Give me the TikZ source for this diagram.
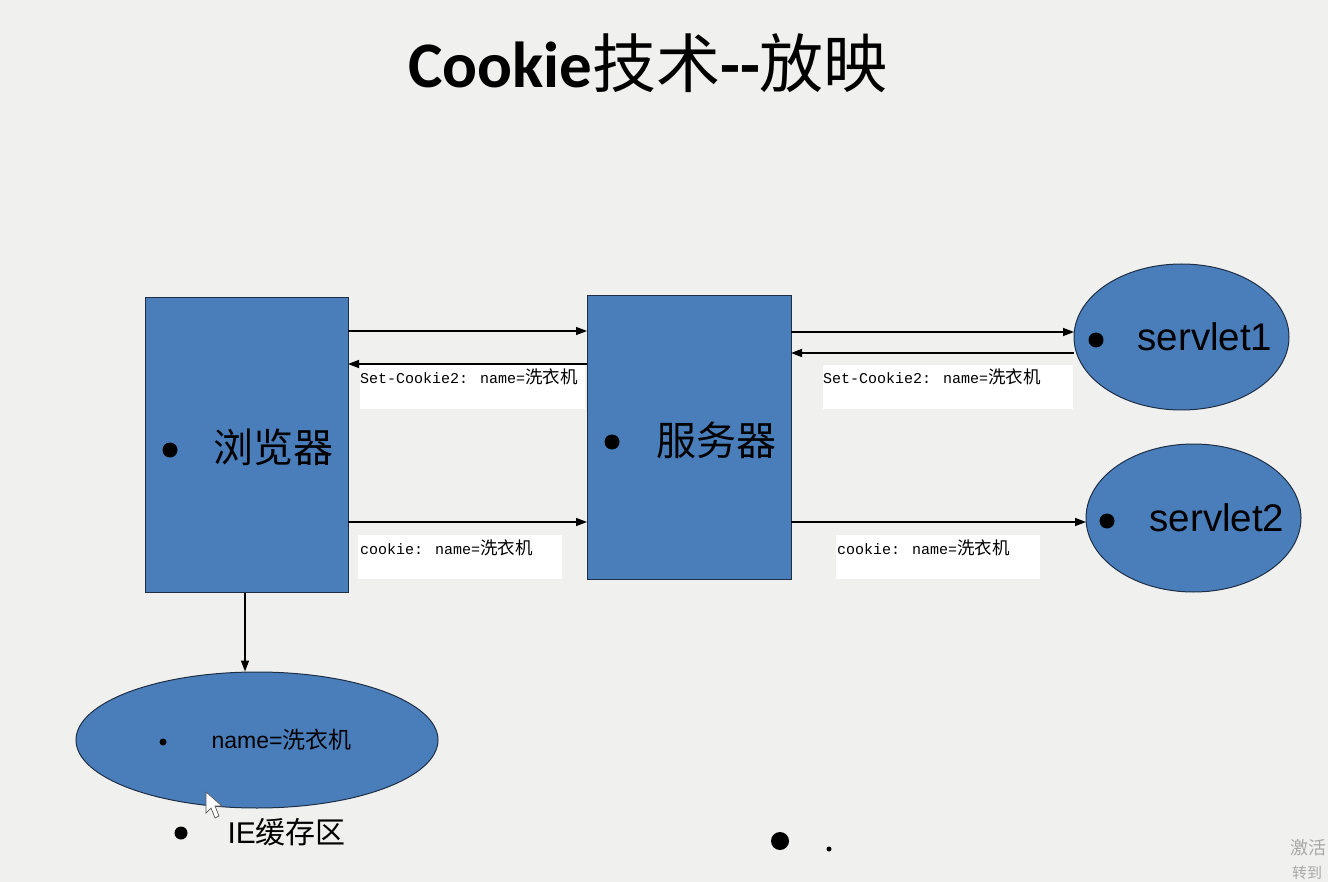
\documentclass[tikz,border=0pt]{standalone}
\usepackage{fontspec}
\usetikzlibrary{arrows.meta,shapes.geometric}
\setmainfont{Liberation Sans}
\newfontfamily\cjk{Noto Sans CJK SC}
\newfontfamily\titlefont{Carlito}
\newfontfamily\mono{Liberation Mono}
\definecolor{bg}{HTML}{F0F1EF}
\definecolor{boxblue}{HTML}{4A7EBB}
\definecolor{boxedge}{HTML}{1E2F45}
\definecolor{wm}{HTML}{A8A8A8}
\tikzset{
  blk/.style={draw=boxedge,line width=1pt,fill=boxblue,inner sep=0pt},
  oval/.style={ellipse,draw=boxedge,line width=1pt,fill=boxblue,inner sep=0pt},
  conn/.style={line width=1.4pt,-{Triangle[length=11pt,width=8pt]}},
  lbl/.style={fill=white,inner sep=0pt,anchor=north west},
  dot/.style={circle,fill=black,inner sep=0pt,minimum size=#1},
  big/.style={anchor=west,font=\cjk\fontsize{40}{44}\selectfont},
  sv/.style={anchor=west,font=\fontsize{38.5}{42}\selectfont},
}
\newcommand{\lbltext}[1]{{\mono\fontsize{15}{18}\selectfont #1}{\cjk\fontsize{17.5}{18}\selectfont 洗衣机}}
\begin{document}
\begin{tikzpicture}[x=1pt,y=-1pt]
\clip (0,0) rectangle (1328,882);
\fill[bg] (0,0) rectangle (1328,882);
% title
\node (title) at (648,63) {{\titlefont\bfseries\fontsize{65}{70}\selectfont Cookie}{\cjk\fontsize{64}{70}\selectfont 技术}{\titlefont\bfseries\fontsize{65}{70}\selectfont -{}-}{\cjk\fontsize{64}{70}\selectfont 放映}};
% main shapes
\node[blk,minimum width=203pt,minimum height=294pt] (browser) at (246.5,445) {};
\node[blk,minimum width=204pt,minimum height=283pt] (server) at (689,437.5) {};
\node[oval,minimum width=215pt,minimum height=146pt] (s1) at (1181.5,337) {};
\node[oval,minimum width=215pt,minimum height=148pt] (s2) at (1193.5,518) {};
\node[oval,minimum width=362pt,minimum height=136pt] (cache) at (257,740) {};
% texts in shapes
\node[dot=15pt] (d1) at (170,450) {};
\node[big] (t1) at (210,447) {浏览器};
\node[dot=15pt] (d2) at (612,442) {};
\node[big] (t2) at (653,440) {服务器};
\node[dot=15pt] (d3) at (1096,340) {};
\node[sv] (t3) at (1134,337) {servlet1};
\node[dot=15pt] (d4) at (1107,521) {};
\node[sv] (t4) at (1146,518) {servlet2};
\node[dot=7pt] (d5) at (163,742) {};
\node[anchor=west,font=\fontsize{23}{26}\selectfont] (t5) at (208,740) {name={\cjk 洗衣机}};
% coordinates for connectors
\coordinate (b1) at (348,331); \coordinate (v1) at (587,331);
\coordinate (b2) at (348,364); \coordinate (v2) at (587,364);
\coordinate (b3) at (348,522); \coordinate (v3) at (587,522);
\coordinate (w1) at (791,332); \coordinate (e1) at (1074,332);
\coordinate (w2) at (791,353); \coordinate (e2) at (1074,353);
\coordinate (w3) at (791,522); \coordinate (e3) at (1086,522);
% connectors
\draw[conn] (b1) -- (v1);
\draw[conn] (v2) -- (b2);
\draw[conn] (b3) -- (v3);
\draw[conn] (w1) -- (e1);
\draw[conn] (e2) -- (w2);
\draw[conn] (w3) -- (e3);
\draw[conn] (browser.south -| 245,0) -- (cache.north -| 245,0);
% label boxes
\node[lbl,minimum width=225pt,minimum height=44pt] (L1) at (360,365) {};
\node[anchor=west,inner sep=0pt] (l1) at (360,377) {\lbltext{Set-Cookie2: name=}};
\node[lbl,minimum width=250pt,minimum height=44pt] (L2) at (823,365) {};
\node[anchor=west,inner sep=0pt] (l2) at (823,377) {\lbltext{Set-Cookie2: name=}};
\node[lbl,minimum width=204pt,minimum height=44pt] (L3) at (358,535) {};
\node[anchor=west,inner sep=0pt] (l3) at (360,548) {\lbltext{cookie: name=}};
\node[lbl,minimum width=204pt,minimum height=44pt] (L4) at (836,535) {};
\node[anchor=west,inner sep=0pt] (l4) at (837,548) {\lbltext{cookie: name=}};
% bottom
\node[dot=13pt] (d6) at (181,833) {};
\node[anchor=west,font=\fontsize{30}{34}\selectfont] (t6) at (224,832) {IE{\cjk 缓存区}};
\node[dot=18pt] (d7) at (780,841) {};
\node[dot=5pt] (d8) at (829,849) {};
% cursor
\draw[fill=white,draw=gray!70!black,line width=0.7pt] (206,792) -- (206,813) -- (211,808) -- (215,818) -- (219,816) -- (215,806) -- (222,806) -- cycle;
% watermark (only the visible part)
\node[anchor=west,inner sep=0pt,text=wm,font=\cjk\fontsize{18}{20}\selectfont] (wm1) at (1290,848) {激活};
\node[anchor=west,inner sep=0pt,text=wm,font=\cjk\fontsize{15}{17}\selectfont] (wm2) at (1292,873) {转到};
\end{tikzpicture}
\end{document}
